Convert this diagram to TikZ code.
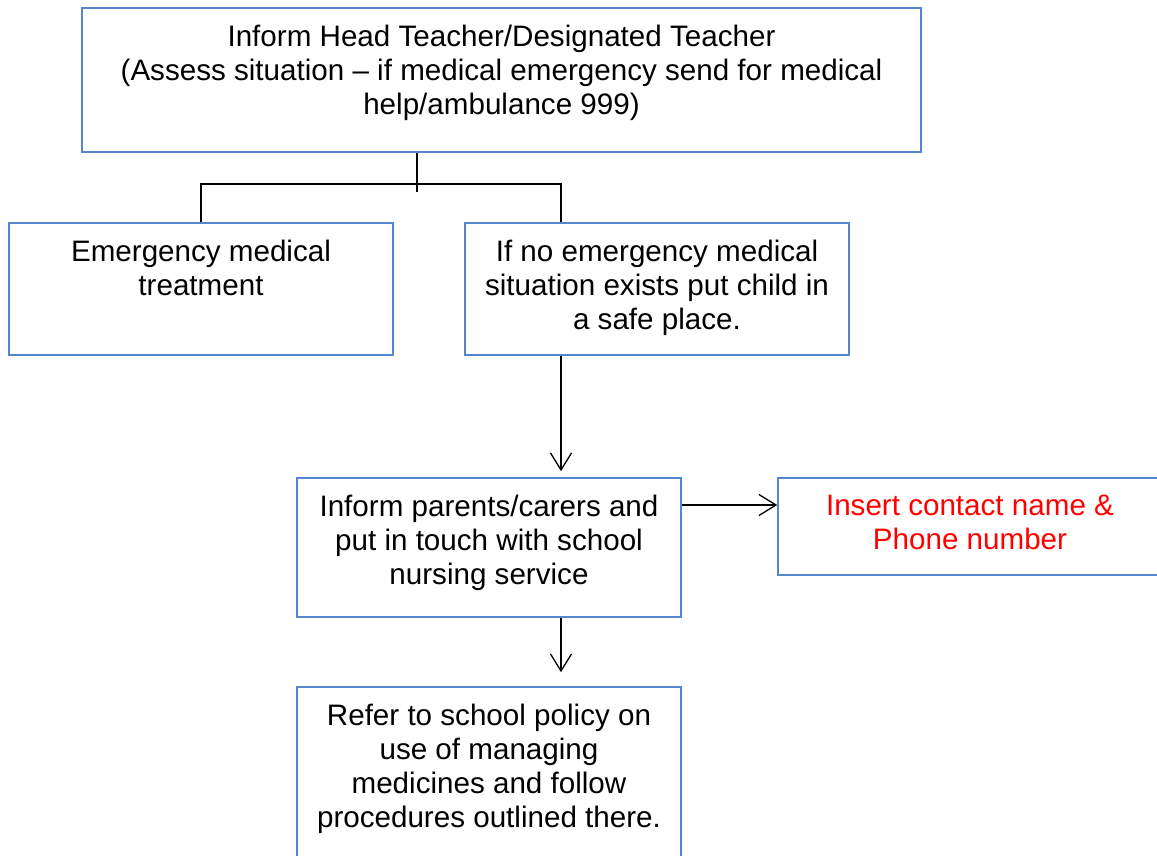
\documentclass[tikz,border=0pt]{standalone}
\usepackage{fontspec}
\setmainfont{Liberation Sans}
\usetikzlibrary{arrows.meta, positioning}

\definecolor{boxblue}{RGB}{84,135,205}

\begin{document}
\begin{tikzpicture}[x=1pt, y=-1pt]
\fill[white] (0,0) rectangle (1157,855);
\useasboundingbox (0,0) rectangle (1157,855);

\begin{scope}[every node/.style={rectangle,draw=boxblue,line width=1.6pt,inner sep=0pt,minimum width=384pt}]
    \node (head) at (501.5, 80) [minimum width=839pt, minimum height=144pt] {};
    \node (emerg) at (201, 289) [minimum height=132pt] {};
    \node (nomed) at (657, 289) [minimum height=132pt] {};
    \node (inform) at (489, 547.5) [minimum height=139pt] {};
    \node (contact) at (970, 526.5) [minimum height=97pt] {};
    \node (refer) at (489, 778.5) [minimum height=183pt] {};
\end{scope}

\begin{scope}[every node/.style={inner sep=0pt,align=center,font=\fontsize{29.6}{34}\selectfont}]
    \node [below=17.5pt of head.north] (headtxt) {Inform Head Teacher/Designated Teacher\\
        (Assess situation -- if medical emergency send for medical\\
        help/ambulance 999)};
    \node [below=17.5pt of emerg.north] (emergtxt) {Emergency medical\\ treatment};
    \node [below=17.5pt of nomed.north] (nomedtxt) {If no emergency medical\\
        situation exists put child in\\ a safe place.};
    \node [below=17.5pt of inform.north] (informtxt) {Inform parents/carers and\\
        put in touch with school\\ nursing service};
    \node [below=17.5pt of contact.north, text=red] (contacttxt) {Insert contact name \&\\ Phone number};
    \node [below=17.5pt of refer.north] (refertxt) {Refer to school policy on\\
        use of managing\\ medicines and follow\\ procedures outlined there.};
\end{scope}

\coordinate (stem) at (417, 184);
\coordinate (stemend) at (417, 192);
\coordinate (brk) at (561, 184);
\coordinate (lnk) at (0, 505);

\draw [line width=1.3pt] (head.south -| stem) -- (stemend);
\draw [line width=1.3pt] (emerg.north) |- (brk) -- (nomed.north -| brk);

\begin{scope}[>={Straight Barb[length=17pt,width=21pt]},
              every edge/.style={draw=black,line width=1.3pt}]
    \path [->, shorten >=6pt] (nomed.south -| brk) edge (inform.north -| brk);
    \path [->] (inform.east |- lnk) edge (contact.west |- lnk);
    \path [->, shorten >=14pt] (inform.south -| brk) edge (refer.north -| brk);
\end{scope}
\end{tikzpicture}
\end{document}
